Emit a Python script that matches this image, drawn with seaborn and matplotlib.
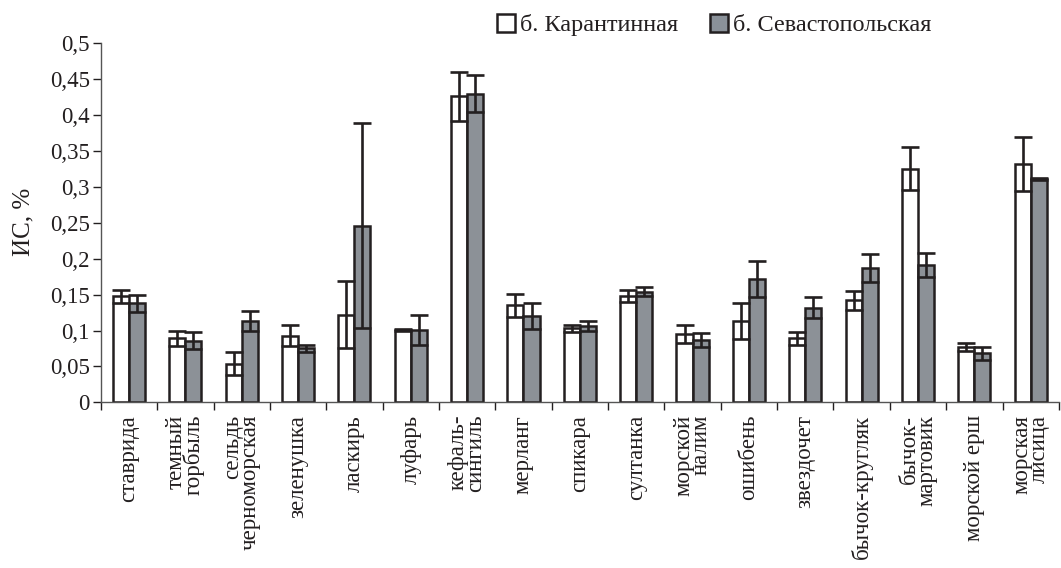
import numpy as np
import pandas as pd
import matplotlib
matplotlib.use("Agg")
import matplotlib.pyplot as plt
from matplotlib.ticker import FuncFormatter
import seaborn as sns

species = ["ставрида", "темный\nгорбыль", "сельдь\nчерноморская", "зеленушка",
           "ласкирь", "луфарь", "кефаль-\nсингиль", "мерланг", "спикара",
           "султанка", "морской\nналим", "ошибень", "звездочет", "бычок-кругляк",
           "бычок-\nмартовик", "морской ерш", "морская\nлисица"]
series = ["б. Карантинная", "б. Севастопольская"]

karantin = [0.148, 0.089, 0.054, 0.093, 0.122, 0.101, 0.426, 0.135, 0.103,
            0.148, 0.095, 0.113, 0.089, 0.142, 0.325, 0.077, 0.332]
karantin_err = [0.009, 0.011, 0.016, 0.014, 0.047, 0.001, 0.034, 0.016, 0.005,
                0.008, 0.012, 0.025, 0.009, 0.013, 0.030, 0.006, 0.038]
sevast = [0.138, 0.086, 0.113, 0.075, 0.246, 0.101, 0.430, 0.120, 0.106,
          0.154, 0.087, 0.172, 0.132, 0.187, 0.191, 0.068, 0.311]
sevast_err = [0.012, 0.012, 0.014, 0.005, 0.143, 0.021, 0.026, 0.018, 0.007,
              0.006, 0.010, 0.025, 0.015, 0.019, 0.017, 0.009, 0.001]

df = pd.DataFrame({
    "species": species * 2,
    "site": [series[0]] * len(species) + [series[1]] * len(species),
    "value": karantin + sevast,
})
errs = [karantin_err, sevast_err]

sns.set_style("white")
plt.rcParams["font.family"] = ["Liberation Serif", "DejaVu Serif"]
ink = "#231f20"
plt.rcParams["text.color"] = ink
plt.rcParams["axes.labelcolor"] = ink
plt.rcParams["xtick.color"] = ink
plt.rcParams["ytick.color"] = ink

fig = plt.figure(figsize=(10.61, 5.68), dpi=100)
ax = fig.add_axes([0.095, 0.2917, 0.903, 0.6321])

sns.barplot(data=df, x="species", y="value", hue="site", hue_order=series,
            palette=["white", "#8a9199"], width=0.57, edgecolor=ink,
            linewidth=1.8, errorbar=None, ax=ax, legend=False)

# error bars on top of each bar (symmetric, both caps)
for cont, e in zip(ax.containers, errs):
    xs = [b.get_x() + b.get_width() / 2 for b in cont]
    hs = [b.get_height() for b in cont]
    ax.errorbar(xs, hs, yerr=e, fmt="none", ecolor=ink, elinewidth=1.9,
                capsize=6.5, capthick=1.9, zorder=5)

ax.set_xlim(-0.5, len(species) - 0.5)
ax.set_ylim(0, 0.5)
ax.set_yticks(np.arange(0, 0.501, 0.05))
ax.yaxis.set_major_formatter(FuncFormatter(lambda v, p: f"{v:g}".replace(".", ",")))
ax.tick_params(axis="y", length=6, width=1, labelsize=16.5, pad=2, left=True)

ax.set_xticks(range(len(species)))
ax.set_xticklabels(species, rotation=90, va="top", ha="center",
                   multialignment="right", fontsize=16.5, linespacing=0.8)
ax.tick_params(axis="x", which="major", length=0, pad=9)
ax.set_xticks(np.arange(-0.5, len(species), 1), minor=True)
ax.tick_params(axis="x", which="minor", length=6, width=1, bottom=True)

for s in ["top", "right"]:
    ax.spines[s].set_visible(False)
for s in ["left", "bottom"]:
    ax.spines[s].set_color("#555555")
    ax.spines[s].set_linewidth(1)

ax.set_xlabel("")
ax.set_ylabel("")
fig.text(23 / 1061, 0.609, "ИС, %", rotation=90, ha="center", va="center",
         fontsize=18)

handles = [plt.Rectangle((0, 0), 1, 1, facecolor=c, edgecolor=ink, linewidth=1.8)
           for c in ["white", "#8a9199"]]
fig.legend(handles, series, loc="center", bbox_to_anchor=(0.673, 0.956), ncol=2,
           frameon=False, fontsize=17.5, handlelength=0.75, handleheight=0.75,
           handletextpad=0.2, columnspacing=1.3)

fig.savefig("out.png", dpi=100)
